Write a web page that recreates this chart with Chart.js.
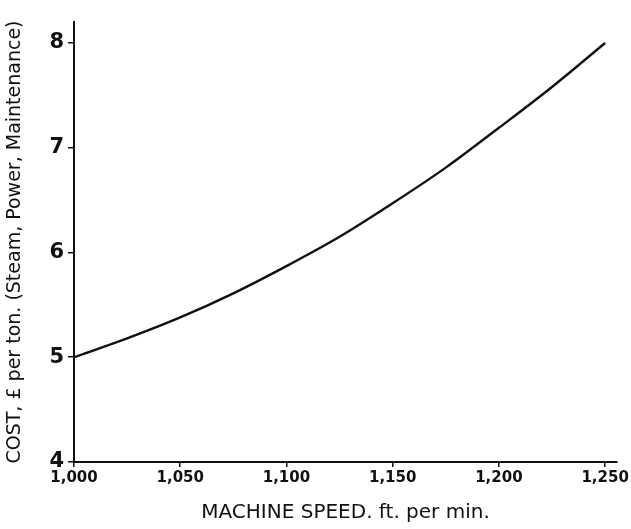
<!DOCTYPE html>
<html>
<head>
<meta charset="utf-8">
<script src="https://cdn.jsdelivr.net/npm/chart.js@4.4.6/dist/chart.umd.min.js"></script>
<style>
  html, body { margin: 0; padding: 0; background: #fff; }
  #wrap { width: 631px; height: 529px; position: relative; }
</style>
</head>
<body>
<div id="wrap"><canvas id="chart-cost"></canvas></div>
<script>
// machine speed (ft. per min) vs. cost (£ per ton)
const speeds = [1000, 1025, 1050, 1075, 1100, 1125, 1150, 1175, 1200, 1225, 1250];
const costs  = [5.0, 5.18, 5.38, 5.61, 5.87, 6.15, 6.47, 6.81, 7.19, 7.58, 8.0];
const xTicks = [1000, 1050, 1100, 1150, 1200, 1250];
const yTicks = [4, 5, 6, 7, 8];

const INK = "#111";
const FONT = "'DejaVu Sans', sans-serif";

// force exactly the hand-drawn tick set (incl. the ones near max)
function setTicks(list) {
  return scale => { scale.ticks = list.map(v => ({ value: v })); };
}

new Chart(document.getElementById("chart-cost"), {
  type: "scatter",
  data: {
    datasets: [{
      data: speeds.map((s, i) => ({ x: s, y: costs[i] })),
      showLine: true,
      borderColor: INK,
      borderWidth: 2.4,
      cubicInterpolationMode: "monotone",
      pointRadius: 0,
    }],
  },
  options: {
    responsive: true,
    maintainAspectRatio: false,
    animation: false,
    layout: { padding: { top: 22, right: 14, left: 0, bottom: 0 } },
    plugins: { legend: { display: false }, tooltip: { enabled: false } },
    scales: {
      x: {
        type: "linear",
        min: 1000,
        max: 1255.6,
        afterBuildTicks: setTicks(xTicks),
        afterFit: s => { s.height = 67; s.paddingLeft = 0; s.paddingRight = 0; },
        border: { color: INK, width: 2 },
        grid: { display: true, drawOnChartArea: false, color: INK, tickLength: 5, lineWidth: 1.5 },
        ticks: {
          color: INK,
          padding: 2,
          font: { family: FONT, size: 15, weight: "bold" },
          callback: v => v.toLocaleString("en-US"),
        },
        title: {
          display: true,
          text: "MACHINE SPEED. ft. per min.",
          color: INK,
          padding: { top: 10 },
          font: { family: FONT, size: 20 },
        },
      },
      y: {
        min: 4,
        max: 8.2,
        afterBuildTicks: setTicks(yTicks),
        afterFit: s => { s.width = 74; s.paddingTop = 0; s.paddingBottom = 0; },
        border: { color: INK, width: 2 },
        grid: { display: true, drawOnChartArea: false, color: INK, tickLength: 6, lineWidth: 1.5 },
        ticks: {
          color: INK,
          padding: 4,
          font: { family: FONT, size: 21, weight: "bold" },
        },
        title: {
          display: true,
          text: "COST, £ per ton. (Steam, Power, Maintenance)",
          color: INK,
          padding: { bottom: 4 },
          font: { family: FONT, size: 19 },
        },
      },
    },
  },
});
</script>
</body>
</html>
